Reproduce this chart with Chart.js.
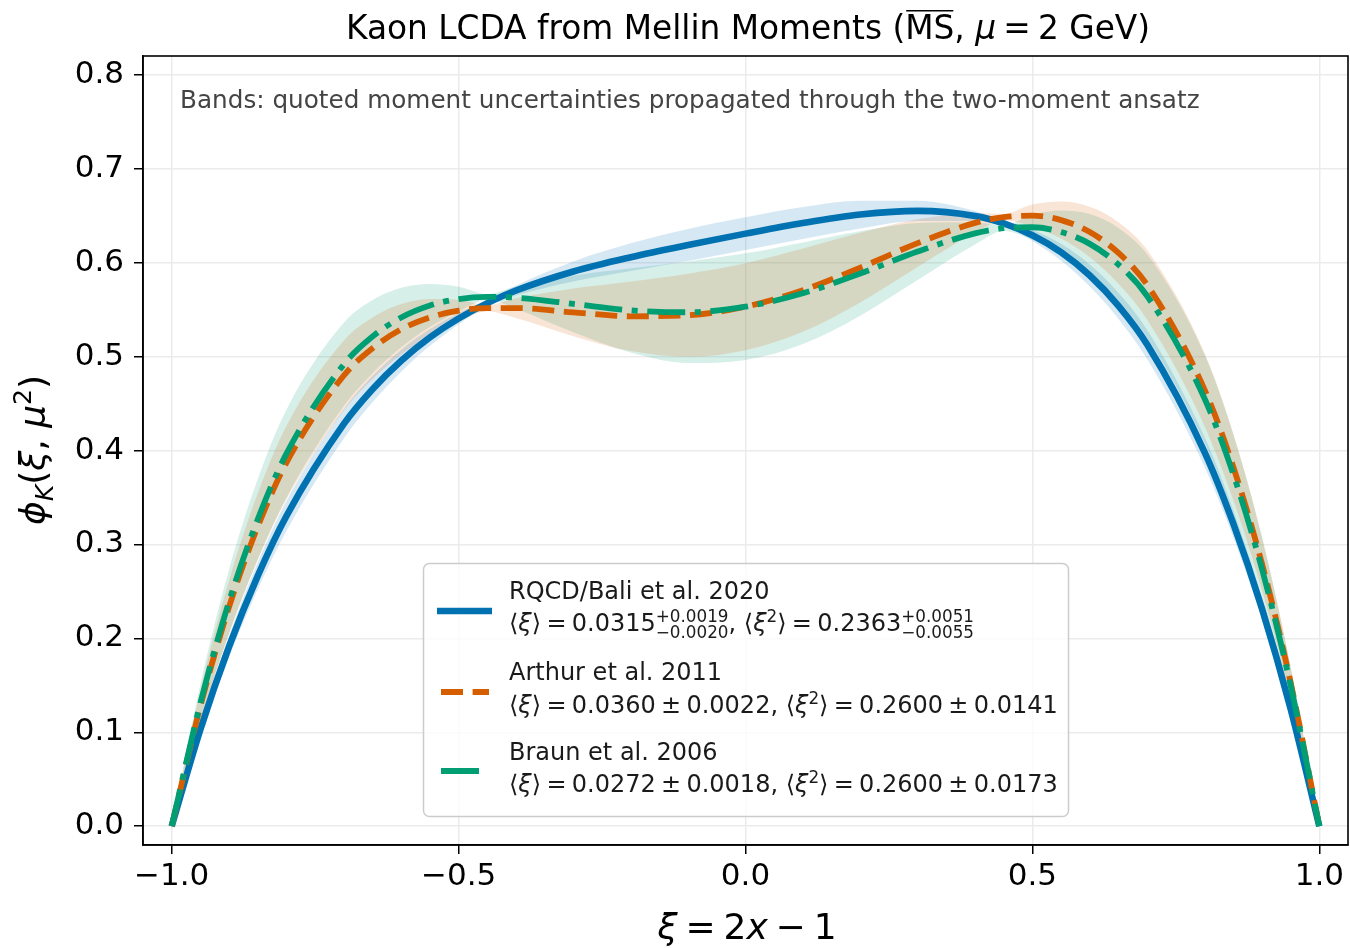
<!DOCTYPE html>
<html>
<head>
<meta charset="utf-8">
<script src="https://cdn.jsdelivr.net/npm/chart.js@4.4.1/dist/chart.umd.min.js"></script>
<style>
  html, body { margin: 0; padding: 0; background: #fff; }
  canvas { display: block; }
</style>
</head>
<body>
<canvas id="lcda" width="1350" height="948"></canvas>
<script>
const xi = [-1, -0.95, -0.9, -0.85, -0.8, -0.7, -0.65, -0.6, -0.55, -0.5, -0.45, -0.4, -0.3, -0.2, -0.1, 0,
  0.1, 0.2, 0.3, 0.4, 0.45, 0.5, 0.55, 0.6, 0.65, 0.7, 0.8, 0.85, 0.9, 0.95, 1];

// RQCD/Bali et al. 2020
const rqcd = [0, 0.1030, 0.1913, 0.2666, 0.3303, 0.4284, 0.4653, 0.4956, 0.5204, 0.5405, 0.5569, 0.5703, 0.5906,
  0.6058, 0.6188, 0.6309, 0.6422, 0.6512, 0.6551, 0.6497, 0.6417, 0.6291, 0.6110, 0.5863, 0.5540, 0.5128, 0.3984,
  0.3223, 0.2317, 0.1249, 0];
const rqcdLo = [0, 0.0964, 0.1800, 0.2523, 0.3144, 0.4129, 0.4514, 0.4839, 0.5114, 0.5345, 0.5541, 0.5649, 0.5799,
  0.5910, 0.6017, 0.6135, 0.6251, 0.6364, 0.6444, 0.6443, 0.6389, 0.6231, 0.6020, 0.5746, 0.5401, 0.4973, 0.3825,
  0.3080, 0.2204, 0.1183, 0];
const rqcdHi = [0, 0.1096, 0.2026, 0.2809, 0.3462, 0.4439, 0.4792, 0.5073, 0.5294, 0.5465, 0.5597, 0.5757, 0.6013,
  0.6206, 0.6359, 0.6483, 0.6593, 0.6660, 0.6658, 0.6551, 0.6445, 0.6351, 0.6200, 0.5980, 0.5679, 0.5283, 0.4143,
  0.3366, 0.2430, 0.1315, 0];

// Arthur et al. 2011
const arthur = [0, 0.1280, 0.2335, 0.3190, 0.3871, 0.4799, 0.5089, 0.5290, 0.5417, 0.5488, 0.5516, 0.5516, 0.5471,
  0.5429, 0.5440, 0.5531, 0.5707, 0.5947, 0.6208, 0.6423, 0.6485, 0.6500, 0.6453, 0.6326, 0.6103, 0.5763, 0.4648,
  0.3827, 0.2797, 0.1531, 0];
const arthurLo = [0, 0.1114, 0.2053, 0.2835, 0.3481, 0.4427, 0.4761, 0.5021, 0.5220, 0.5370, 0.5482, 0.5410, 0.5217,
  0.5058, 0.4997, 0.5068, 0.5264, 0.5576, 0.5954, 0.6317, 0.6451, 0.6382, 0.6256, 0.6057, 0.5775, 0.5391, 0.4258,
  0.3472, 0.2515, 0.1365, 0];
const arthurHi = [0, 0.1446, 0.2617, 0.3545, 0.4261, 0.5171, 0.5417, 0.5559, 0.5614, 0.5606, 0.5550, 0.5622, 0.5725,
  0.5800, 0.5883, 0.5994, 0.6150, 0.6318, 0.6462, 0.6529, 0.6519, 0.6618, 0.6650, 0.6595, 0.6431, 0.6135, 0.5038,
  0.4182, 0.3079, 0.1697, 0];

// Braun et al. 2006
const braun = [0, 0.1311, 0.2392, 0.3268, 0.3966, 0.4917, 0.5213, 0.5416, 0.5544, 0.5612, 0.5635, 0.5627, 0.5561,
  0.5492, 0.5472, 0.5531, 0.5674, 0.5884, 0.6118, 0.6312, 0.6367, 0.6377, 0.6326, 0.6200, 0.5979, 0.5645, 0.4553,
  0.3749, 0.2740, 0.1500, 0];
const braunLo = [0, 0.1110, 0.2051, 0.2841, 0.3497, 0.4473, 0.4823, 0.5099, 0.5315, 0.5480, 0.5605, 0.5509, 0.5258,
  0.5043, 0.4931, 0.4963, 0.5133, 0.5435, 0.5815, 0.6194, 0.6337, 0.6245, 0.6097, 0.5883, 0.5589, 0.5201, 0.4084,
  0.3322, 0.2399, 0.1299, 0];
const braunHi = [0, 0.1512, 0.2733, 0.3696, 0.4435, 0.5361, 0.5603, 0.5733, 0.5773, 0.5744, 0.5665, 0.5745, 0.5864,
  0.5941, 0.6013, 0.6099, 0.6215, 0.6333, 0.6421, 0.6430, 0.6397, 0.6509, 0.6555, 0.6517, 0.6369, 0.6089, 0.5022,
  0.4176, 0.3081, 0.1701, 0];

const xTicks = [-1, -0.5, 0, 0.5, 1];
const yTicks = [0, 0.1, 0.2, 0.3, 0.4, 0.5, 0.6, 0.7, 0.8];

const FONT = '"DejaVu Sans", sans-serif';
const BLUE = '#0072B2', ORANGE = '#D55E00', GREEN = '#009E73';
const DASH_O = [22, 9.6];
const DASH_G = [38, 9.6, 6, 9.6];
const SP = 0.22; // math spacing around = and ±, in em

const pts = (ys) => xi.map((x, i) => ({ x: x, y: ys[i] }));
const fmt = (v) => (v < 0 ? '\u2212' : '') + Math.abs(v).toFixed(1);

function bandSets(lo, hi, rgb) {
  return [
    { data: pts(lo), borderColor: 'transparent', borderWidth: 0, fill: false, order: 10 },
    { data: pts(hi), borderColor: 'transparent', borderWidth: 0, fill: '-1',
      backgroundColor: 'rgba(' + rgb + ',0.16)', order: 10 },
  ];
}

const datasets = [
  ...bandSets(rqcdLo, rqcdHi, '0,114,178'),
  ...bandSets(arthurLo, arthurHi, '213,94,0'),
  ...bandSets(braunLo, braunHi, '0,158,115'),
  { data: pts(rqcd), borderColor: BLUE, borderWidth: 6.6, fill: false, order: 3 },
  { data: pts(arthur), borderColor: ORANGE, borderWidth: 5.8, borderDash: DASH_O, fill: false, order: 2 },
  { data: pts(braun), borderColor: GREEN, borderWidth: 5.8, borderDash: DASH_G, fill: false, order: 1 },
];

// draw a row of text pieces (italic, scaled, raised, stacked scripts, gaps); returns width
function runs(ctx, parts, x, y, size, draw) {
  let cx = x;
  for (const p of parts) {
    if (p.g !== undefined) { cx += p.g * size; continue; }
    const fs = size * (p.s || 1);
    ctx.font = (p.it ? 'italic ' : '') + fs + 'px ' + FONT;
    if (p.sup !== undefined) {
      const w = Math.max(ctx.measureText(p.sup).width, ctx.measureText(p.sub).width);
      if (draw) {
        ctx.fillText(p.sup, cx, y - size * 0.375);
        ctx.fillText(p.sub, cx, y + size * 0.29);
      }
      cx += w;
    } else {
      const w = ctx.measureText(p.t).width;
      if (draw) {
        ctx.fillText(p.t, cx, y + (p.dy || 0) * size);
        if (p.over) {
          ctx.beginPath();
          ctx.lineWidth = 1.5;
          ctx.moveTo(cx + 1, y - size * 0.86);
          ctx.lineTo(cx + w - 1, y - size * 0.86);
          ctx.stroke();
        }
      }
      cx += w;
    }
  }
  return cx - x;
}

function centered(ctx, parts, cx, y, size) {
  const w = runs(ctx, parts, 0, 0, size, false);
  runs(ctx, parts, cx - w / 2, y, size, true);
}

const eq = (rhs) => [{ g: SP }, { t: '=' }, { g: SP }, { t: rhs }];
const pm = (a, b) => [{ g: SP }, { t: '=' }, { g: SP }, { t: a }, { g: SP }, { t: '\u00B1' }, { g: SP }, { t: b }];
const xiAvg = [{ t: '\u27E8' }, { t: '\u03BE', it: true }, { t: '\u27E9' }];
const xi2Avg = [{ t: '\u27E8' }, { t: '\u03BE', it: true }, { t: '2', s: 0.7, dy: -0.38 }, { t: '\u27E9' }];

const legendItems = [
  { color: BLUE, lw: 6.6, dash: [], x0: 437, x1: 492, hy: 611, ny: 599, my: 631, name: 'RQCD/Bali et al. 2020',
    math: [...xiAvg, ...eq('0.0315'), { sup: '+0.0019', sub: '\u22120.0020', s: 0.7 }, { t: ', ' },
      ...xi2Avg, ...eq('0.2363'), { sup: '+0.0051', sub: '\u22120.0055', s: 0.7 }] },
  { color: ORANGE, lw: 5.8, dash: DASH_O, x0: 441, x1: 489, hy: 692, ny: 680, my: 713, name: 'Arthur et al. 2011',
    math: [...xiAvg, ...pm('0.0360', '0.0022'), { t: ', ' }, ...xi2Avg, ...pm('0.2600', '0.0141')] },
  { color: GREEN, lw: 5.8, dash: DASH_G, x0: 441, x1: 488, hy: 771, ny: 760, my: 792, name: 'Braun et al. 2006',
    math: [...xiAvg, ...pm('0.0272', '0.0018'), { t: ', ' }, ...xi2Avg, ...pm('0.2600', '0.0173')] },
];

const decor = {
  id: 'decor',
  afterDraw(chart) {
    const ctx = chart.ctx;
    const a = chart.chartArea;
    ctx.save();

    // spines
    ctx.strokeStyle = '#000';
    ctx.lineWidth = 1.6;
    ctx.strokeRect(a.left, a.top, a.right - a.left, a.bottom - a.top);

    ctx.fillStyle = '#000';
    ctx.strokeStyle = '#000';
    ctx.textBaseline = 'alphabetic';
    ctx.textAlign = 'left';

    // title
    centered(ctx, [{ t: 'Kaon LCDA from Mellin Moments (' }, { t: 'MS', over: true }, { t: ', ' },
      { t: '\u03BC', it: true }, ...eq('2'), { t: ' GeV)' }], 748, 39, 32.8);

    // x label
    centered(ctx, [{ t: '\u03BE', it: true }, ...eq('2'), { t: 'x', it: true }, { g: SP }, { t: '\u2212' },
      { g: SP }, { t: '1' }], 747, 939, 36);

    // y label
    ctx.save();
    ctx.translate(45, 450);
    ctx.rotate(-Math.PI / 2);
    centered(ctx, [{ t: '\u03D5', it: true }, { t: 'K', it: true, s: 0.7, dy: 0.22 }, { t: '(' },
      { t: '\u03BE', it: true }, { t: ', ' }, { t: '\u03BC', it: true }, { t: '2', s: 0.7, dy: -0.4 },
      { t: ')' }], 0, 0, 36);
    ctx.restore();

    // note
    ctx.fillStyle = '#444';
    ctx.font = '24.7px ' + FONT;
    ctx.fillText('Bands: quoted moment uncertainties propagated through the two-moment ansatz', 180, 108);

    // legend box
    ctx.beginPath();
    ctx.roundRect(423.5, 563.5, 645, 253, 6);
    ctx.fillStyle = 'rgba(255,255,255,0.8)';
    ctx.fill();
    ctx.strokeStyle = '#cccccc';
    ctx.lineWidth = 1.5;
    ctx.stroke();

    for (const it of legendItems) {
      ctx.beginPath();
      ctx.strokeStyle = it.color;
      ctx.lineWidth = it.lw;
      ctx.lineCap = 'butt';
      ctx.setLineDash(it.dash);
      ctx.moveTo(it.x0, it.hy);
      ctx.lineTo(it.x1, it.hy);
      ctx.stroke();
      ctx.setLineDash([]);

      ctx.fillStyle = '#1a1a1a';
      ctx.font = '24px ' + FONT;
      ctx.fillText(it.name, 509, it.ny);
      runs(ctx, it.math, 509, it.my, 24, true);
    }
    ctx.restore();
  },
};

new Chart(document.getElementById('lcda'), {
  type: 'line',
  data: { datasets: datasets },
  options: {
    responsive: false,
    animation: false,
    devicePixelRatio: 1,
    layout: { padding: { top: 56, right: 2, left: 0, bottom: 0 } },
    elements: {
      point: { radius: 0 },
      line: { cubicInterpolationMode: 'monotone', borderCapStyle: 'butt', borderJoinStyle: 'round' },
    },
    plugins: {
      legend: { display: false },
      tooltip: { enabled: false },
      filler: { drawTime: 'beforeDatasetsDraw' },
    },
    scales: {
      x: {
        type: 'linear',
        min: -1.05,
        max: 1.05,
        afterBuildTicks: (s) => { s.ticks = xTicks.map((v) => ({ value: v })); },
        afterFit: (s) => { s.height = 103; },
        ticks: { font: { family: FONT, size: 31 }, color: '#000', padding: 4, maxRotation: 0,
          callback: (v) => fmt(v) },
        grid: { color: '#ebebeb', lineWidth: 1.5, tickColor: '#000', tickLength: 9, tickWidth: 1.5 },
        border: { color: '#000', width: 1.6 },
      },
      y: {
        min: -0.02,
        max: 0.82,
        afterBuildTicks: (s) => { s.ticks = yTicks.map((v) => ({ value: v })); },
        afterFit: (s) => { s.width = 143; },
        ticks: { font: { family: FONT, size: 31 }, color: '#000', padding: 10,
          callback: (v) => fmt(v) },
        grid: { color: '#ebebeb', lineWidth: 1.5, tickColor: '#000', tickLength: 9, tickWidth: 1.5 },
        border: { color: '#000', width: 1.6 },
      },
    },
  },
  plugins: [decor],
});
</script>
</body>
</html>
